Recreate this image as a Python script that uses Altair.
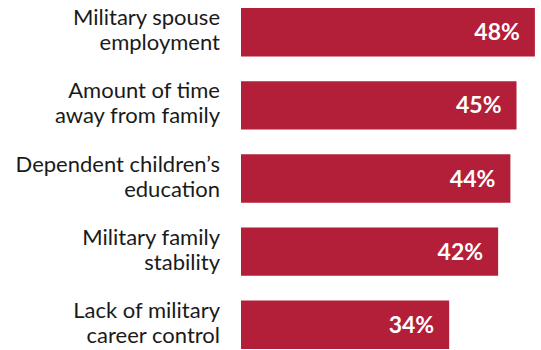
import altair as alt
import pandas as pd

categories = [
    "Military spouse\nemployment",
    "Amount of time\naway from family",
    "Dependent children’s\neducation",
    "Military family\nstability",
    "Lack of military\ncareer control",
]
values = [48, 45, 44, 42, 34]
labels = ["48%", "45%", "44%", "42%", "34%"]

df = pd.DataFrame({"cat": categories, "value": values, "label": labels})

y = alt.Y("cat:N", sort=None, axis=None,
          scale=alt.Scale(paddingInner=0.338, paddingOuter=0))
x = alt.X("value:Q", axis=None, scale=alt.Scale(domain=[0, 49], nice=False))

base = alt.Chart(df)

bars = base.mark_bar(color="#B31E38").encode(x=x, y=y)

vals = base.mark_text(align="right", baseline="middle", dx=-15, dy=1, font="Lato",
                      fontSize=23, fontWeight="bold", color="white").encode(
    x=x, y=y, text="label:N")

cats = base.mark_text(align="right", baseline="alphabetic", font="Lato", fontSize=22,
                      lineBreak="\n", lineHeight=25, dy=-7, color="#1a1a1a").encode(
    x=alt.value(-21), y=y, text="cat:N")

chart = alt.layer(bars, vals, cats).properties(
    width=300, height=341,
    autosize=alt.AutoSizeParams(type="none"),
    padding={"left": 241, "top": 8, "right": 0, "bottom": 1},
).configure_view(stroke=None)

chart.save("out.html", embed_options={"renderer": "svg", "actions": False})
